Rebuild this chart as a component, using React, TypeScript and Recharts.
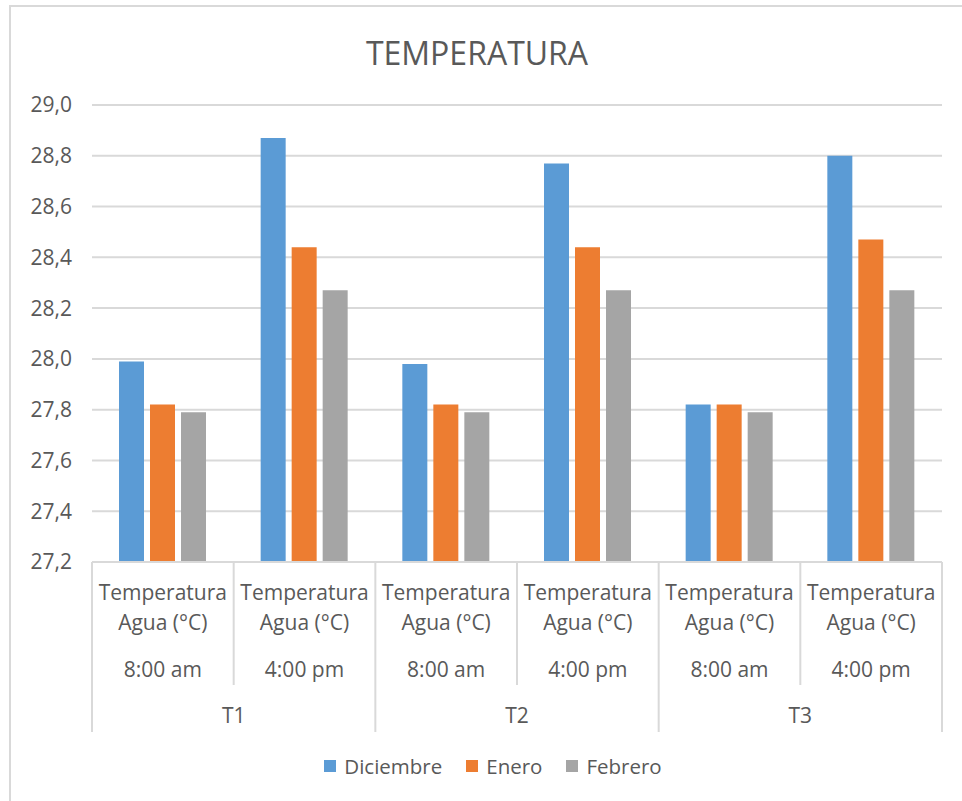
import React from "react";
import { BarChart, Bar, XAxis, YAxis, CartesianGrid, Legend } from "recharts";

const treatments = ["T1", "T1", "T2", "T2", "T3", "T3"];
const times = ["8:00 am", "4:00 pm", "8:00 am", "4:00 pm", "8:00 am", "4:00 pm"];
const diciembre = [27.99, 28.87, 27.98, 28.77, 27.82, 28.8];
const enero = [27.82, 28.44, 27.82, 28.44, 27.82, 28.47];
const febrero = [27.79, 28.27, 27.79, 28.27, 27.79, 28.27];
const yTicks = [27.2, 27.4, 27.6, 27.8, 28.0, 28.2, 28.4, 28.6, 28.8, 29.0];

const series = [
  { key: "Diciembre", color: "#5B9BD5", values: diciembre },
  { key: "Enero", color: "#ED7D31", values: enero },
  { key: "Febrero", color: "#A5A5A5", values: febrero },
];

const data = times.map((t, i) => ({
  id: `${treatments[i]}-${t}`,
  time: t,
  group: treatments[i],
  Diciembre: diciembre[i],
  Enero: enero[i],
  Febrero: febrero[i],
}));

const FONT = "'Open Sans', sans-serif";
const TEXT = "#595959";
const LINE = "#D9D9D9";

const CategoryTick = (props: any) => {
  const { x, y, payload, index } = props;
  const idx = payload?.index ?? index;
  const half = payload?.offset ?? 0;
  const row = data[idx];
  const leftX = x - half;
  const longLen = 170;
  const shortLen = 123;
  return (
    <g>
      <line x1={leftX} x2={leftX} y1={y} y2={y + (idx % 2 === 0 ? longLen : shortLen)} stroke={LINE} strokeWidth={2} />
      {idx === data.length - 1 && (
        <line x1={x + half} x2={x + half} y1={y} y2={y + longLen} stroke={LINE} strokeWidth={2} />
      )}
      <text x={x} y={y + 38} textAnchor="middle" fill={TEXT} fontSize={21} fontFamily={FONT}>
        Temperatura
      </text>
      <text x={x} y={y + 68} textAnchor="middle" fill={TEXT} fontSize={21} fontFamily={FONT}>
        Agua (°C)
      </text>
      <text x={x} y={y + 115} textAnchor="middle" fill={TEXT} fontSize={21} fontFamily={FONT}>
        {row?.time}
      </text>
      {idx % 2 === 1 && (
        <text x={leftX} y={y + 161} textAnchor="middle" fill={TEXT} fontSize={21} fontFamily={FONT}>
          {row?.group}
        </text>
      )}
    </g>
  );
};

const LegendContent = () => (
  <div
    style={{
      height: 70,
      display: "flex",
      justifyContent: "center",
      alignItems: "center",
      paddingLeft: 44,
      fontFamily: FONT,
      fontSize: 20.5,
      color: TEXT,
      boxSizing: "border-box",
    }}
  >
    {series.map((s) => (
      <div key={s.key} style={{ display: "flex", alignItems: "center", margin: "0 12px" }}>
        <span style={{ width: 12, height: 12, background: s.color, display: "inline-block", marginRight: 8 }} />
        <span>{s.key}</span>
      </div>
    ))}
  </div>
);

export default function App() {
  return (
    <div style={{ position: "absolute", left: 0, top: 0, width: 962, height: 801, overflow: "hidden", background: "#fff" }}>
      <div
        style={{
          position: "absolute",
          left: 9,
          top: 5,
          width: 1100,
          height: 1000,
          borderTop: "2px solid #D9D9D9",
          borderLeft: "2px solid #D9D9D9",
        }}
      />
      <div
        style={{
          position: "absolute",
          left: 0,
          width: 954,
          top: 30,
          textAlign: "center",
          fontFamily: FONT,
          fontSize: 32,
          color: TEXT,
          lineHeight: "46px",
        }}
      >
        TEMPERATURA
      </div>
      <div style={{ position: "absolute", left: 0, top: 0 }}>
        <BarChart
          width={962}
          height={801}
          data={data}
          margin={{ top: 105, right: 20, bottom: 0, left: 0 }}
          barSize={25}
          barGap={6}
        >
          <CartesianGrid vertical={false} stroke={LINE} strokeWidth={2} />
          <XAxis
            dataKey="id"
            height={169}
            interval={0}
            tickLine={false}
            tickSize={0}
            tickMargin={0}
            axisLine={{ stroke: LINE, strokeWidth: 2 }}
            tick={<CategoryTick />}
          />
          <YAxis
            width={92}
            domain={[27.2, 29.0]}
            ticks={yTicks}
            allowDataOverflow
            axisLine={false}
            tickLine={false}
            tickSize={0}
            tickMargin={20}
            tick={{ fill: TEXT, fontSize: 21, fontFamily: FONT }}
            tickFormatter={(v: number) => v.toFixed(1).replace(".", ",")}
          />
          <Legend verticalAlign="bottom" content={<LegendContent />} />
          {series.map((s) => (
            <Bar key={s.key} dataKey={s.key} fill={s.color} isAnimationActive={false} />
          ))}
        </BarChart>
      </div>
    </div>
  );
}
